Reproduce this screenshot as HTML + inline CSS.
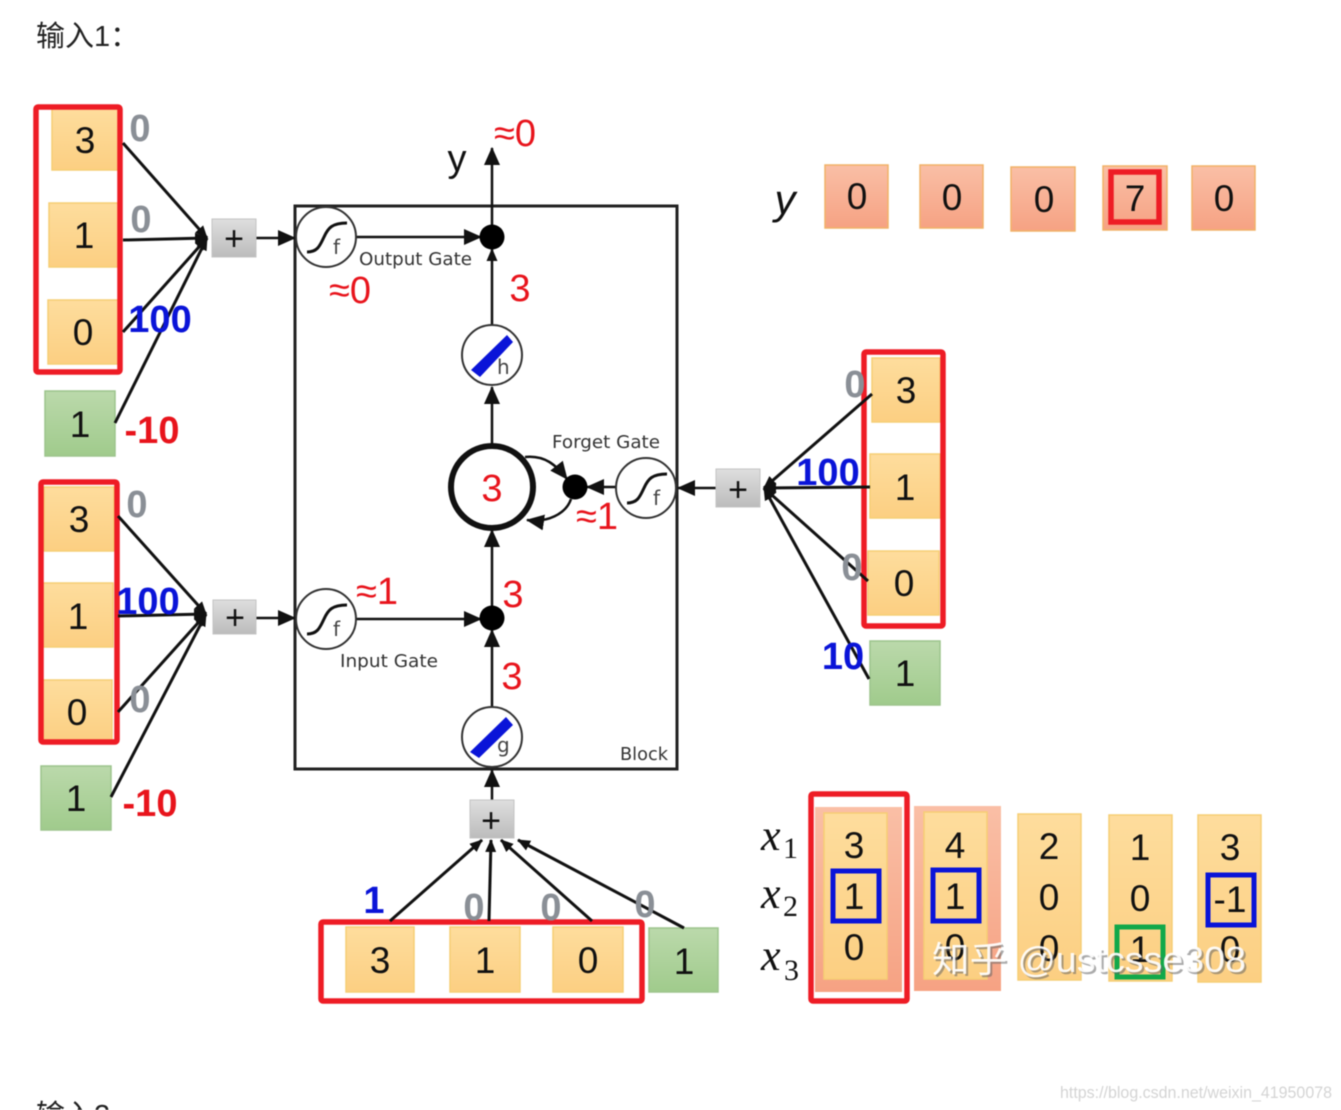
<!DOCTYPE html>
<html lang="zh">
<head>
<meta charset="utf-8">
<title>输入1</title>
<style>
html,body{margin:0;padding:0;background:#fff;width:1341px;height:1110px;overflow:hidden}
svg{display:block;filter:blur(.4px)}
text{font-family:"Liberation Sans","Noto Sans CJK SC",sans-serif}
.d{font-size:37px;fill:#111;text-anchor:middle;transform:translateY(-1px)}
.r{font-size:38px;fill:#e8141c;text-anchor:middle;transform:translateY(-1px)}
.g{font-size:38px;fill:#8a8f96;text-anchor:middle;font-weight:bold;transform:translateY(-1px)}
.b{font-size:38px;fill:#0a14d8;text-anchor:middle;font-weight:bold;transform:translateY(-1px)}
.n{font-size:38px;fill:#e8141c;text-anchor:middle;font-weight:bold;transform:translateY(-1px)}
.l{font-family:"DejaVu Sans",sans-serif;font-size:18px;fill:#333}
.p{font-size:34px;fill:#111;text-anchor:middle}
.x{font-family:"Liberation Serif",serif;font-style:italic;font-size:44px;fill:#111}
.s{font-family:"Liberation Serif",serif;font-size:30px;fill:#111}
.ln{stroke:#111;stroke-width:3;fill:none}
.th{stroke:#111;stroke-width:2.5;fill:none}
.o{fill:url(#og);stroke:#f6ce74;stroke-width:1.5}
.gr{fill:url(#gg);stroke:#9cc48c;stroke-width:1.5}
.sa{fill:url(#sg);stroke:#f1b267;stroke-width:1.5}
.pl{fill:url(#pg);stroke:#c4c4c4;stroke-width:1}
.red{fill:none;stroke:#ee1c25;stroke-width:5.5}
.blu{fill:none;stroke:#0a14d8;stroke-width:5}
.c{fill:#fff;stroke:#333;stroke-width:2}
.t{font-family:"DejaVu Sans",sans-serif;font-size:20px;fill:#444}
</style>
</head>
<body>
<svg width="1341" height="1110" viewBox="0 0 1341 1110" xmlns="http://www.w3.org/2000/svg">
<defs>
<linearGradient id="og" x1="0" y1="0" x2="0" y2="1"><stop offset="0" stop-color="#fedd9d"/><stop offset="1" stop-color="#fccf82"/></linearGradient>
<linearGradient id="gg" x1="0" y1="0" x2="0" y2="1"><stop offset="0" stop-color="#bbd9ab"/><stop offset="1" stop-color="#a0cb8c"/></linearGradient>
<linearGradient id="sg" x1="0" y1="0" x2="0" y2="1"><stop offset="0" stop-color="#fabfa6"/><stop offset="1" stop-color="#f6a283"/></linearGradient>
<linearGradient id="pg" x1="0" y1="0" x2="0" y2="1"><stop offset="0" stop-color="#dedede"/><stop offset="1" stop-color="#bcbcbc"/></linearGradient>
<marker id="a" markerUnits="userSpaceOnUse" markerWidth="18" markerHeight="16" refX="17" refY="8" orient="auto"><path d="M0 0L18 8L0 16Z" fill="#111"/></marker>
<marker id="m" markerUnits="userSpaceOnUse" markerWidth="13" markerHeight="11" refX="12" refY="5.5" orient="auto"><path d="M0 0L13 5.5L0 11Z" fill="#111"/></marker>
</defs>

<rect width="1341" height="1110" fill="#fff"/>
<text x="36" y="46" font-size="29" fill="#222">输入1：</text>
<text x="36" y="1125" font-size="29" fill="#222">输入2</text>

<!-- main block -->
<rect x="295" y="206" width="382" height="563" fill="none" stroke="#222" stroke-width="3"/>

<!-- internal connectors -->
<line class="th" x1="492" y1="237" x2="492" y2="148" marker-end="url(#a)"/>
<line class="th" x1="356" y1="237" x2="481" y2="237" marker-end="url(#a)"/>
<line class="th" x1="492" y1="325" x2="492" y2="249" marker-end="url(#m)"/>
<line class="th" x1="492" y1="446" x2="492" y2="387" marker-end="url(#a)"/>
<line class="th" x1="492" y1="618" x2="492" y2="530" marker-end="url(#a)"/>
<line class="th" x1="356" y1="619" x2="481" y2="619" marker-end="url(#a)"/>
<line class="th" x1="492" y1="707" x2="492" y2="630" marker-end="url(#a)"/>
<line class="th" x1="616" y1="487" x2="587" y2="487" marker-end="url(#a)"/>
<line class="th" x1="716" y1="488" x2="678" y2="488" marker-end="url(#a)"/>
<line class="th" x1="256" y1="238" x2="295" y2="238" marker-end="url(#a)"/>
<line class="th" x1="256" y1="618" x2="295" y2="618" marker-end="url(#a)"/>
<line class="th" x1="492" y1="800" x2="492" y2="770" marker-end="url(#a)"/>
<path class="th" d="M525 457C545 455 556 465 567 479" marker-end="url(#a)"/>
<path class="th" d="M571 499C566 514 547 523 527 520" marker-end="url(#a)"/>

<!-- nodes -->
<circle cx="492" cy="237" r="12.5" fill="#000"/>
<circle cx="492" cy="618" r="12.5" fill="#000"/>
<circle cx="575" cy="487" r="12.5" fill="#000"/>
<circle cx="492" cy="487" r="41" fill="#fff" stroke="#111" stroke-width="6"/>
<text class="r" x="492" y="502">3</text>

<circle class="c" cx="326" cy="237" r="30"/>
<path class="ln" d="M307 252C318 252 320 245 324 237C328 228 332 223 347 223"/>
<text class="t" x="333" y="254">f</text>

<circle class="c" cx="326" cy="619" r="30"/>
<path class="ln" d="M307 634C318 634 320 627 324 619C328 610 332 605 347 605"/>
<text class="t" x="333" y="636">f</text>

<circle class="c" cx="646" cy="488" r="30"/>
<path class="ln" d="M627 503C638 503 640 496 644 488C648 479 652 474 667 474"/>
<text class="t" x="653" y="505">f</text>

<circle class="c" cx="492" cy="355" r="30"/>
<polygon points="471,370 507,335 513,342 480,377" fill="#0a14d8"/>
<text class="t" x="497" y="374">h</text>

<circle class="c" cx="492" cy="737" r="30"/>
<polygon points="470,752 506,717 513,725 479,758" fill="#0a14d8"/>
<text class="t" x="497" y="752">g</text>

<!-- block labels -->
<text class="l" x="359" y="265" textLength="113" lengthAdjust="spacingAndGlyphs">Output Gate</text>
<text class="l" x="552" y="448" textLength="108" lengthAdjust="spacingAndGlyphs">Forget Gate</text>
<text class="l" x="340" y="667" textLength="98" lengthAdjust="spacingAndGlyphs">Input Gate</text>
<text class="l" x="620" y="760" textLength="48" lengthAdjust="spacingAndGlyphs">Block</text>

<text x="457" y="171" font-size="38" fill="#111" text-anchor="middle">y</text>
<text class="r" x="515" y="147">≈0</text>
<text class="r" x="350" y="304">≈0</text>
<text class="r" x="520" y="302">3</text>
<text class="r" x="597" y="530">≈1</text>
<text class="r" x="377" y="605">≈1</text>
<text class="r" x="513" y="608">3</text>
<text class="r" x="512" y="690">3</text>

<!-- left group 1 -->
<rect class="o" x="52" y="108" width="68" height="62"/><text class="d" x="85" y="154">3</text>
<rect class="o" x="49" y="203" width="70" height="64"/><text class="d" x="84" y="249">1</text>
<rect class="o" x="48" y="300" width="71" height="64"/><text class="d" x="83" y="346">0</text>
<rect class="gr" x="45" y="391" width="70" height="65"/><text class="d" x="80" y="438">1</text>
<rect class="red" x="36" y="107" width="84" height="265" rx="2"/>
<line class="ln" x1="123" y1="143" x2="207" y2="238" marker-end="url(#m)"/>
<line class="ln" x1="123" y1="240" x2="207" y2="238" marker-end="url(#m)"/>
<line class="ln" x1="123" y1="332" x2="207" y2="238" marker-end="url(#m)"/>
<line class="ln" x1="115" y1="423" x2="207" y2="238" marker-end="url(#m)"/>
<rect class="pl" x="212" y="219" width="44" height="38"/><text class="p" x="234" y="250">+</text>
<text class="g" x="140" y="142">0</text>
<text class="g" x="141" y="233">0</text>
<text class="b" x="160" y="333">100</text>
<text class="n" x="152" y="444">-10</text>

<!-- left group 2 -->
<rect class="o" x="44" y="487" width="70" height="64"/><text class="d" x="79" y="533">3</text>
<rect class="o" x="43" y="583" width="70" height="64"/><text class="d" x="78" y="630">1</text>
<rect class="o" x="42" y="680" width="70" height="63"/><text class="d" x="77" y="726">0</text>
<rect class="gr" x="41" y="766" width="70" height="64"/><text class="d" x="76" y="812">1</text>
<rect class="red" x="41" y="482" width="76" height="260" rx="2"/>
<line class="ln" x1="118" y1="516" x2="206" y2="614" marker-end="url(#m)"/>
<line class="ln" x1="118" y1="616" x2="206" y2="614" marker-end="url(#m)"/>
<line class="ln" x1="118" y1="712" x2="206" y2="614" marker-end="url(#m)"/>
<line class="ln" x1="111" y1="797" x2="206" y2="614" marker-end="url(#m)"/>
<rect class="pl" x="213" y="600" width="43" height="34"/><text class="p" x="235" y="629">+</text>
<text class="g" x="137" y="518">0</text>
<text class="b" x="148" y="615">100</text>
<text class="g" x="140" y="713">0</text>
<text class="n" x="150" y="817">-10</text>

<!-- right group -->
<rect class="o" x="872" y="358" width="68" height="64"/><text class="d" x="906" y="404">3</text>
<rect class="o" x="870" y="454" width="70" height="64"/><text class="d" x="905" y="501">1</text>
<rect class="o" x="868" y="551" width="71" height="64"/><text class="d" x="904" y="597">0</text>
<rect class="gr" x="870" y="641" width="70" height="64"/><text class="d" x="905" y="687">1</text>
<rect class="red" x="864" y="352" width="79" height="274" rx="2"/>
<line class="ln" x1="872" y1="394" x2="764" y2="488" marker-end="url(#m)"/>
<line class="ln" x1="870" y1="487" x2="764" y2="488" marker-end="url(#m)"/>
<line class="ln" x1="868" y1="581" x2="764" y2="488" marker-end="url(#m)"/>
<line class="ln" x1="869" y1="679" x2="764" y2="488" marker-end="url(#m)"/>
<rect class="pl" x="716" y="469" width="44" height="38"/><text class="p" x="738" y="501">+</text>
<text class="g" x="855" y="398">0</text>
<text class="b" x="828" y="486">100</text>
<text class="g" x="852" y="581">0</text>
<text class="b" x="843" y="670">10</text>

<!-- bottom inputs -->
<rect class="o" x="346" y="927" width="68" height="65"/><text class="d" x="380" y="974">3</text>
<rect class="o" x="450" y="927" width="70" height="65"/><text class="d" x="485" y="974">1</text>
<rect class="o" x="553" y="927" width="70" height="65"/><text class="d" x="588" y="974">0</text>
<rect class="gr" x="649" y="928" width="69" height="64"/><text class="d" x="684" y="975">1</text>
<rect class="red" x="321" y="922" width="321" height="79" rx="2"/>
<line class="ln" x1="390" y1="921" x2="482" y2="840" marker-end="url(#m)"/>
<line class="ln" x1="489" y1="921" x2="491" y2="840" marker-end="url(#m)"/>
<line class="ln" x1="592" y1="921" x2="501" y2="840" marker-end="url(#m)"/>
<line class="ln" x1="684" y1="928" x2="518" y2="840" marker-end="url(#m)"/>
<rect class="pl" x="470" y="800" width="44" height="38"/><text class="p" x="491" y="832">+</text>
<text class="b" x="374" y="914">1</text>
<text class="g" x="474" y="921">0</text>
<text class="g" x="551" y="921">0</text>
<text class="g" x="645" y="918">0</text>

<!-- y row -->
<text x="785" y="214" font-family="Liberation Serif" font-style="italic" font-size="42" fill="#111" text-anchor="middle">y</text>
<rect class="sa" x="825" y="165" width="63" height="63"/><text class="d" x="857" y="210">0</text>
<rect class="sa" x="920" y="165" width="63" height="63"/><text class="d" x="952" y="211">0</text>
<rect class="sa" x="1011" y="167" width="64" height="64"/><text class="d" x="1044" y="213">0</text>
<rect class="sa" x="1103" y="166" width="64" height="64"/><text class="d" x="1135" y="212">7</text>
<rect class="red" x="1111" y="172" width="48" height="50"/>
<rect class="sa" x="1192" y="166" width="63" height="64"/><text class="d" x="1224" y="212">0</text>

<!-- x matrix -->
<text class="x" x="761" y="850">x</text><text class="s" x="783" y="858">1</text>
<text class="x" x="761" y="908">x</text><text class="s" x="783" y="916">2</text>
<text class="x" x="761" y="970">x</text><text class="s" x="784" y="980">3</text>

<rect x="815" y="807" width="87" height="185" fill="url(#sg)"/>
<rect x="914" y="806" width="87" height="185" fill="url(#sg)"/>
<rect class="o" x="824" y="813" width="63" height="166"/>
<rect class="o" x="924" y="812" width="63" height="167"/>
<rect class="o" x="1018" y="814" width="63" height="166"/>
<rect class="o" x="1109" y="815" width="63" height="166"/>
<rect class="o" x="1198" y="815" width="63" height="167"/>

<text class="d" x="854" y="859">3</text><text class="d" x="854" y="910">1</text><text class="d" x="854" y="961">0</text>
<text class="d" x="955" y="859">4</text><text class="d" x="955" y="910">1</text><text class="d" x="955" y="961">0</text>
<text class="d" x="1049" y="860">2</text><text class="d" x="1049" y="911">0</text><text class="d" x="1049" y="962">0</text>
<text class="d" x="1140" y="861">1</text><text class="d" x="1140" y="912">0</text><text class="d" x="1140" y="963">1</text>
<text class="d" x="1230" y="861">3</text><text class="d" x="1230" y="913">-1</text><text class="d" x="1230" y="963">0</text>

<rect class="blu" x="833" y="871" width="46" height="50"/>
<rect class="blu" x="933" y="870" width="46" height="51"/>
<rect class="blu" x="1208" y="875" width="46" height="50"/>
<rect x="1117" y="927" width="46" height="50" fill="none" stroke="#12a84a" stroke-width="5"/>
<rect class="red" x="811" y="794" width="96" height="207" rx="2"/>

<!-- watermarks -->
<text x="934" y="974" font-size="36" fill="#666" opacity=".55" textLength="314" lengthAdjust="spacingAndGlyphs">知乎 @ustcsse308</text>
<text x="932" y="972" font-size="36" fill="#fff" opacity=".92" textLength="314" lengthAdjust="spacingAndGlyphs">知乎 @ustcsse308</text>
<text x="1060" y="1098" font-size="17" fill="#d4d4d4" textLength="272" lengthAdjust="spacingAndGlyphs">https://blog.csdn.net/weixin_41950078</text>
</svg>
</body>
</html>
